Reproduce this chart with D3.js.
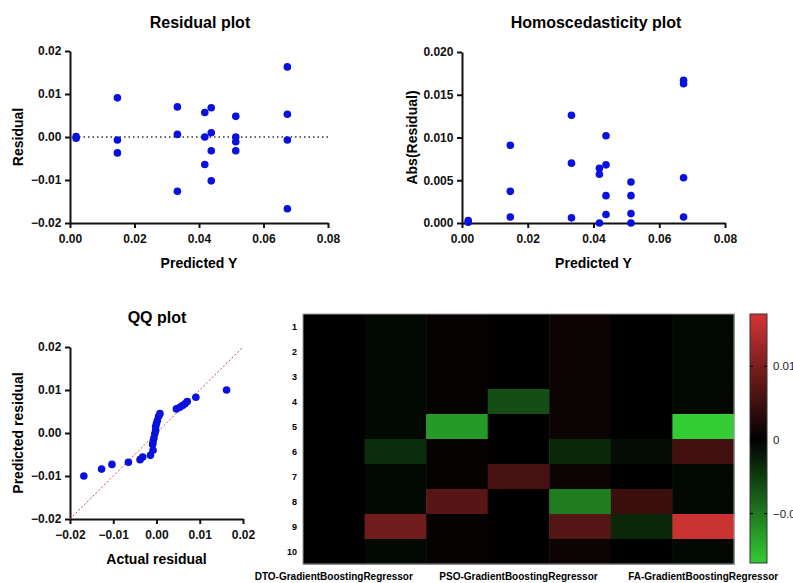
<!DOCTYPE html>
<html>
<head>
    <meta charset="UTF-8">
    <title>Residual diagnostics</title>
    <script src="https://d3js.org/d3.v7.min.js"></script>
    <style>
        body { margin: 0; background: #fff; }
        svg { display: block; font-family: Arial, "Liberation Sans", sans-serif; }
        .tick text { font-weight: bold; font-size: 12px; fill: #111; }
        .domain, .tick line { stroke: #111; stroke-width: 2px; }
    </style>
</head>
<body>
<svg id="chart" width="793" height="583"></svg>
<script>
    // residuals vs predicted Y
    const predictedY = [0.0019, 0.0019, 0.0147, 0.0147, 0.0147, 0.0333, 0.0333, 0.0333,
        0.0418, 0.0418, 0.0418, 0.0438, 0.0438, 0.0438, 0.0438,
        0.0514, 0.0514, 0.0514, 0.0514, 0.0674, 0.0674, 0.0674, 0.0674];
    const residuals = [-0.0003, 0.0001, 0.0091, -0.0007, -0.0037, 0.0070, 0.0006, -0.0126,
        0.0057, 0.0000, -0.0064, 0.0068, 0.0010, -0.0032, -0.0102,
        0.0048, 0.0000, -0.0011, -0.0032, 0.0163, 0.0053, -0.0007, -0.0167];

    // QQ plot
    const qqActual = [-0.0168, -0.0127, -0.0103, -0.0065, -0.0038, -0.0032, -0.0014,
        -0.0008, -0.0009, -0.0008, -0.0006, -0.0004, -0.0002, -0.0002, 0.0000, 0.0002, 0.0005, 0.0008,
        0.0046, 0.0054, 0.0060, 0.0066, 0.0071, 0.0091, 0.0162];
    const qqPredicted = [-0.0100, -0.0084, -0.0073, -0.0068, -0.0062, -0.0056, -0.0052,
        -0.0040, -0.0027, -0.0021, -0.0012, -0.0002, 0.0006, 0.0015, 0.0022, 0.0029, 0.0039, 0.0045,
        0.0056, 0.0060, 0.0064, 0.0068, 0.0073, 0.0083, 0.0100];

    // heatmap: 7 columns x 10 rows
    const heatColumns = ["DTO-GradientBoostingRegressor", "", "", "PSO-GradientBoostingRegressor", "", "", "FA-GradientBoostingRegressor"];
    const heatRows = ["1", "2", "3", "4", "5", "6", "7", "8", "9", "10"];
    const heatValues = [
        [0, 0, 0, 0, 0, 0, 0, 0, 0, 0],
        [-0.0007, -0.0007, -0.0007, -0.0007, -0.0007, -0.0037, -0.0007, -0.0007, 0.0091, -0.0007],
        [0.0006, 0.0006, 0.0006, 0.0006, -0.0126, 0.0006, 0.0006, 0.0070, 0.0006, 0.0006],
        [0, 0, 0, -0.0064, 0, 0, 0.0057, 0, 0, 0],
        [0.0010, 0.0010, 0.0010, 0.0010, 0.0010, -0.0032, 0.0010, -0.0102, 0.0068, 0.0010],
        [0, 0, 0, 0, 0, -0.0011, 0, 0.0048, -0.0032, 0],
        [-0.0007, -0.0007, -0.0007, -0.0007, -0.0167, 0.0053, -0.0007, -0.0007, 0.0163, -0.0007]
    ];
    const colorMin = -0.0167, colorMax = 0.0171;
    const colorTicks = [-0.01, 0, 0.01];

    const svg = d3.select("#chart");
    const dotColor = "#0812dc";

    function scatterPanel(opts) {
        const g = svg.append("g");
        const x = d3.scaleLinear().domain(opts.xDomain).range(opts.xRange);
        const y = d3.scaleLinear().domain(opts.yDomain).range(opts.yRange);

        g.append("g")
            .attr("transform", `translate(0,${opts.yRange[0]})`)
            .call(d3.axisBottom(x).tickValues(opts.xTicks).tickFormat(d3.format(opts.xFmt)).tickSize(5).tickSizeOuter(0))
            .call(a => a.selectAll(".tick text").attr("dy", "1.0em"));
        g.append("g")
            .attr("transform", `translate(${opts.xRange[0]},0)`)
            .call(d3.axisLeft(y).tickValues(opts.yTicks).tickFormat(d3.format(opts.yFmt)).tickSize(5).tickSizeOuter(0))
            .call(a => a.selectAll(".tick text").attr("dx", "-0.05em"));

        if (opts.extra) opts.extra(g, x, y);

        g.selectAll("circle.dot")
            .data(opts.xs.map((v, i) => [v, opts.ys[i]]))
            .join("circle")
            .attr("class", "dot")
            .attr("cx", d => x(d[0]))
            .attr("cy", d => y(d[1]))
            .attr("r", 3.8)
            .attr("fill", dotColor);

        const cx = (opts.xRange[0] + opts.xRange[1]) / 2;
        const cy = (opts.yRange[0] + opts.yRange[1]) / 2;
        g.append("text").attr("x", opts.titleX).attr("y", opts.titleY)
            .attr("text-anchor", "middle").attr("font-weight", "bold").attr("font-size", 16)
            .text(opts.title);
        g.append("text").attr("x", cx).attr("y", opts.yRange[0] + 45)
            .attr("text-anchor", "middle").attr("font-weight", "bold").attr("font-size", 14)
            .text(opts.xLabel);
        g.append("text").attr("transform", `translate(${opts.yLabelX},${cy}) rotate(-90)`)
            .attr("text-anchor", "middle").attr("font-weight", "bold").attr("font-size", 14)
            .text(opts.yLabel);
    }

    // Residual plot
    scatterPanel({
        xs: predictedY, ys: residuals,
        xDomain: [0, 0.08], xRange: [70, 328], xTicks: [0, 0.02, 0.04, 0.06, 0.08], xFmt: ".2f",
        yDomain: [-0.02, 0.02], yRange: [223, 51], yTicks: [-0.02, -0.01, 0, 0.01, 0.02], yFmt: ".2f",
        title: "Residual plot", titleX: 200, titleY: 28,
        xLabel: "Predicted Y", yLabel: "Residual", yLabelX: 23,
        extra: (g, x, y) => {
            g.append("line")
                .attr("x1", x(0)).attr("x2", x(0.08))
                .attr("y1", y(0)).attr("y2", y(0))
                .attr("stroke", "#333").attr("stroke-width", 1.5)
                .attr("stroke-dasharray", "1.5,3");
        }
    });

    // Homoscedasticity plot
    scatterPanel({
        xs: predictedY, ys: residuals.map(Math.abs),
        xDomain: [0, 0.08], xRange: [462, 725], xTicks: [0, 0.02, 0.04, 0.06, 0.08], xFmt: ".2f",
        yDomain: [0, 0.02], yRange: [223, 52], yTicks: [0, 0.005, 0.01, 0.015, 0.02], yFmt: ".3f",
        title: "Homoscedasticity plot", titleX: 596, titleY: 28,
        xLabel: "Predicted Y", yLabel: "Abs(Residual)", yLabelX: 417
    });

    // QQ plot
    scatterPanel({
        xs: qqActual, ys: qqPredicted,
        xDomain: [-0.02, 0.02], xRange: [70, 243], xTicks: [-0.02, -0.01, 0, 0.01, 0.02], xFmt: ".2f",
        yDomain: [-0.02, 0.02], yRange: [519, 347], yTicks: [-0.02, -0.01, 0, 0.01, 0.02], yFmt: ".2f",
        title: "QQ plot", titleX: 157, titleY: 323,
        xLabel: "Actual residual", yLabel: "Predicted residual", yLabelX: 23,
        extra: (g, x, y) => {
            g.append("line")
                .attr("x1", x(-0.02)).attr("y1", y(-0.02))
                .attr("x2", x(0.02)).attr("y2", y(0.02))
                .attr("stroke", "#c0504d").attr("stroke-width", 1)
                .attr("stroke-dasharray", "2,2");
        }
    });

    // Heatmap
    const hx = d3.scaleBand().domain(d3.range(heatColumns.length)).range([303, 734]);
    const hy = d3.scaleBand().domain(heatRows).range([314, 564]);
    const neg = d3.interpolateRgb("#000000", "#33cc33");
    const pos = d3.interpolateRgb("#000000", "#d43434");
    const color = v => v < 0 ? neg(Math.min(1, v / colorMin)) : pos(Math.min(1, v / colorMax));

    const cells = [];
    heatValues.forEach((col, ci) => col.forEach((v, ri) => cells.push({ ci, row: heatRows[ri], v })));
    const hm = svg.append("g");
    hm.selectAll("rect.cell")
        .data(cells)
        .join("rect")
        .attr("class", "cell")
        .attr("x", d => hx(d.ci))
        .attr("y", d => hy(d.row))
        .attr("width", hx.bandwidth() + 0.5)
        .attr("height", hy.bandwidth() + 0.5)
        .attr("fill", d => color(d.v));
    hm.append("rect")
        .attr("x", 303).attr("y", 314).attr("width", 431).attr("height", 250)
        .attr("fill", "none").attr("stroke", "#999").attr("stroke-width", 1);

    hm.selectAll("text.row")
        .data(heatRows)
        .join("text")
        .attr("class", "row")
        .attr("x", 297)
        .attr("y", d => hy(d) + hy.bandwidth() / 2)
        .attr("dy", "0.35em")
        .attr("text-anchor", "end")
        .attr("font-size", 9).attr("font-weight", "bold")
        .text(d => d);

    hm.selectAll("text.col")
        .data(heatColumns.map((c, i) => ({ c, i })).filter(d => d.c))
        .join("text")
        .attr("class", "col")
        .attr("x", d => hx(d.i) + hx.bandwidth() / 2)
        .attr("y", 580)
        .attr("text-anchor", "middle")
        .attr("font-size", 10).attr("font-weight", "bold")
        .text(d => d.c);

    // colour bar
    const cb = d3.scaleLinear().domain([colorMin, colorMax]).range([563, 314]);
    const grad = svg.append("defs").append("linearGradient")
        .attr("id", "cbar").attr("x1", 0).attr("x2", 0).attr("y1", 1).attr("y2", 0);
    d3.range(0, 1.0001, 0.05).forEach(t => {
        const v = colorMin + t * (colorMax - colorMin);
        grad.append("stop").attr("offset", t).attr("stop-color", color(v));
    });
    svg.append("rect")
        .attr("x", 750).attr("y", cb(colorMax)).attr("width", 17).attr("height", cb(colorMin) - cb(colorMax))
        .attr("fill", "url(#cbar)").attr("stroke", "#333").attr("stroke-width", 1);
    const cbTicks = svg.append("g").selectAll("g").data(colorTicks).join("g");
    cbTicks.append("line").attr("x1", 750).attr("x2", 753)
        .attr("y1", d => cb(d)).attr("y2", d => cb(d)).attr("stroke", "#000");
    cbTicks.append("line").attr("x1", 764).attr("x2", 767)
        .attr("y1", d => cb(d)).attr("y2", d => cb(d)).attr("stroke", "#000");
    // labels run past the right edge, as in the original figure
    cbTicks.append("text")
        .attr("x", 773).attr("y", d => cb(d)).attr("dy", "0.35em")
        .attr("font-size", 11.5).attr("fill", "#222")
        .text(d => d === 0 ? "0" : d3.format(".2f")(d));
</script>
</body>
</html>
